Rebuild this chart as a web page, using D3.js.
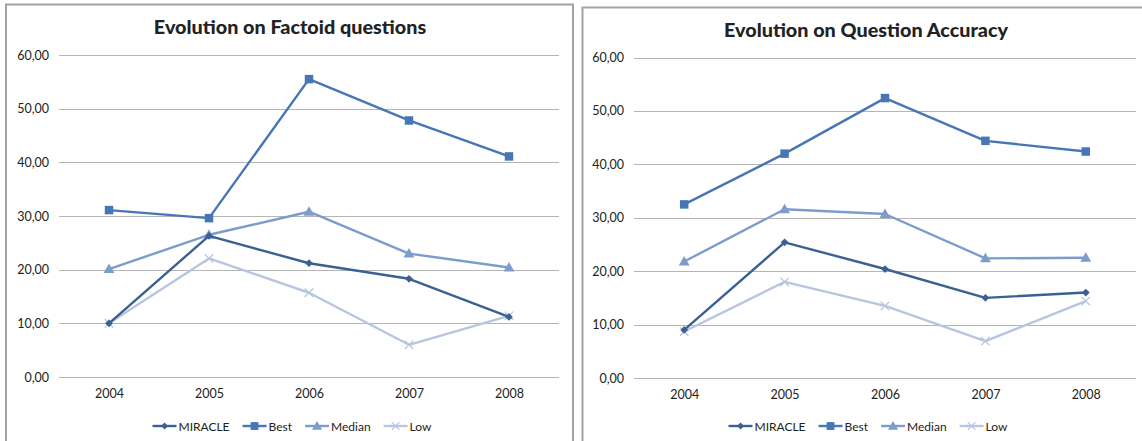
<!DOCTYPE html>
<html>
<head>
<meta charset="utf-8">
<script src="https://cdn.jsdelivr.net/npm/d3@7"></script>
<style>
  html, body { margin: 0; padding: 0; background: #ffffff; }
  svg { display: block; }
  text { font-family: Lato, "Open Sans", sans-serif; fill: #222; }
</style>
</head>
<body>
<svg id="chart" width="1142" height="441"></svg>
<script>
// Years on the category axis
const years = ["2004", "2005", "2006", "2007", "2008"];
const seriesNames = ["MIRACLE", "Best", "Median", "Low"];
const yTicks = [0, 10, 20, 30, 40, 50, 60];

// Factoid questions (%)
const factoidMiracle = [10.0, 26.3, 21.2, 18.3, 11.2];
const factoidBest    = [31.1, 29.6, 55.5, 47.8, 41.1];
const factoidMedian  = [20.1, 26.5, 30.8, 23.0, 20.4];
const factoidLow     = [10.0, 22.1, 15.7, 6.0, 11.4];

// Question accuracy (%)
const accuracyMiracle = [9.0, 25.4, 20.4, 15.0, 16.0];
const accuracyBest    = [32.5, 42.0, 52.4, 44.4, 42.4];
const accuracyMedian  = [21.8, 31.6, 30.7, 22.4, 22.5];
const accuracyLow     = [8.7, 18.0, 13.5, 6.9, 14.4];

const colors = {
  MIRACLE: "#3a6193",
  Best: "#4776b6",
  Median: "#7c9dcc",
  Low: "#b6c6df"
};
const markerType = {
  MIRACLE: "diamond",
  Best: "square",
  Median: "triangle",
  Low: "cross"
};

const svg = d3.select("#chart");
const fmt = v => d3.format(".2f")(v).replace(".", ",");

function drawMarker(g, type, x, y, color, scale = 1) {
  if (type === "diamond") {
    g.append("path").attr("d", d3.symbol(d3.symbolSquare, 30 * scale)())
      .attr("transform", `translate(${x},${y}) rotate(45)`).attr("fill", color);
  } else if (type === "square") {
    g.append("path").attr("d", d3.symbol(d3.symbolSquare, 72 * scale)())
      .attr("transform", `translate(${x},${y})`).attr("fill", color);
  } else if (type === "triangle") {
    g.append("path").attr("d", d3.symbol(d3.symbolTriangle, 52 * scale)())
      .attr("transform", `translate(${x},${y + 0.8})`).attr("fill", color);
  } else {
    g.append("path").attr("d", d3.symbol(d3.symbolX, 48 * scale)())
      .attr("transform", `translate(${x},${y})`)
      .attr("fill", "none").attr("stroke", color).attr("stroke-width", 1.3);
  }
}

function drawPanel(cfg) {
  const g = svg.append("g");

  // panel frame
  g.append("rect")
    .attr("x", cfg.frame[0]).attr("y", cfg.frame[1])
    .attr("width", cfg.frame[2]).attr("height", cfg.frame[3])
    .attr("fill", "#fff").attr("stroke", "#a3a3a3").attr("stroke-width", 2);

  const x = d3.scalePoint().domain(years).range([cfg.left + cfg.band / 2, cfg.right - cfg.band / 2]);
  const y = d3.scaleLinear().domain([0, 60]).range([cfg.bottom, cfg.top]);

  // gridlines
  g.append("g").selectAll("line").data(yTicks).join("line")
    .attr("x1", cfg.left).attr("x2", cfg.right)
    .attr("y1", d => Math.round(y(d)) + 0.5).attr("y2", d => Math.round(y(d)) + 0.5)
    .attr("stroke", "#b5b5b5").attr("stroke-width", 1.2);

  // value axis labels
  const yAxis = d3.axisLeft(y).tickValues(yTicks).tickFormat(fmt).tickSize(0).tickPadding(0);
  const ya = g.append("g").attr("transform", `translate(${cfg.left - 10},0)`).call(yAxis);
  ya.select(".domain").remove();
  ya.selectAll("text").attr("font-size", 12.5).attr("font-family", "Lato").attr("fill", "#222");

  // category axis labels
  const xAxis = d3.axisBottom(x).tickSize(0).tickPadding(0);
  const xa = g.append("g").attr("transform", `translate(0,${cfg.bottom + 12})`).call(xAxis);
  xa.select(".domain").remove();
  xa.selectAll("text").attr("font-size", 12.5).attr("font-family", "Lato").attr("fill", "#222");

  // title
  g.append("text")
    .attr("x", cfg.titleX).attr("y", cfg.titleY)
    .attr("text-anchor", "middle")
    .attr("font-size", 19.8).attr("font-weight", "900").attr("fill", "#000")
    .text(cfg.title);

  // series lines and markers
  const line = d3.line().x((d, i) => x(years[i])).y(d => y(d));
  const order = ["Low", "Median", "Best", "MIRACLE"];
  order.forEach(name => {
    const vals = cfg.series[name];
    g.append("path").datum(vals)
      .attr("d", line).attr("fill", "none")
      .attr("stroke", colors[name]).attr("stroke-width", 2.4)
      .attr("stroke-linejoin", "round");
    const mg = g.append("g");
    vals.forEach((v, i) => drawMarker(mg, markerType[name], x(years[i]), y(v), colors[name]));
  });

  // legend, laid out left to right and centred
  const leg = g.append("g");
  let cx = 0;
  seriesNames.forEach(name => {
    const item = leg.append("g").attr("transform", `translate(${cx},0)`);
    item.append("line").attr("x1", 0).attr("x2", 24).attr("y1", 0).attr("y2", 0)
      .attr("stroke", colors[name]).attr("stroke-width", 2.4);
    drawMarker(item, markerType[name], 12, 0, colors[name], 0.85);
    const t = item.append("text").attr("x", 26).attr("y", 4.5)
      .attr("font-size", 12).attr("fill", "#222").text(name);
    cx += 26 + t.node().getComputedTextLength() + 13;
  });
  const legW = cx - 13;
  leg.attr("transform", `translate(${cfg.legendX - legW / 2},${cfg.legendY})`);
}

drawPanel({
  frame: [6, 4.5, 567, 460],
  left: 59, right: 559, band: 100,
  top: 55, bottom: 377,
  title: "Evolution on Factoid questions", titleX: 290, titleY: 34,
  legendX: 292, legendY: 426,
  series: { MIRACLE: factoidMiracle, Best: factoidBest, Median: factoidMedian, Low: factoidLow }
});

drawPanel({
  frame: [582.5, 7.5, 600, 460],
  left: 634, right: 1136, band: 100.4,
  top: 57.5, bottom: 378,
  title: "Evolution on Question Accuracy", titleX: 866, titleY: 37,
  legendX: 868, legendY: 426,
  series: { MIRACLE: accuracyMiracle, Best: accuracyBest, Median: accuracyMedian, Low: accuracyLow }
});
</script>
</body>
</html>
